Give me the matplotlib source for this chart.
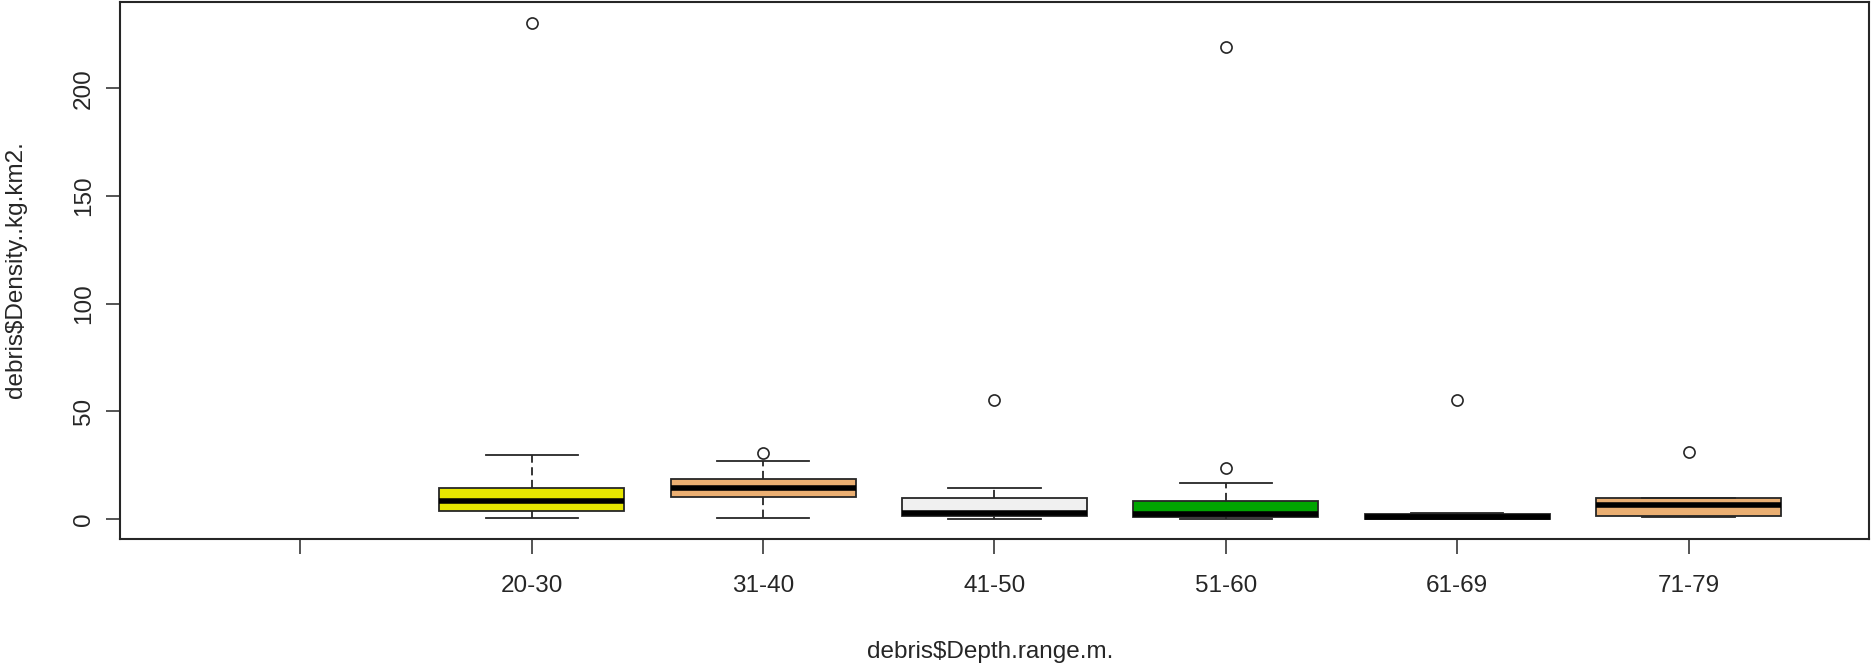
import matplotlib
matplotlib.use("Agg")
import matplotlib.pyplot as plt

# depth ranges (first level is an empty factor level with no data)
labels = ["", "20-30", "31-40", "41-50", "51-60", "61-69", "71-79"]
positions = [2, 3, 4, 5, 6, 7]

# box statistics (kg/km2)
whislo = [0.6, 0.6, 0.2, 0.0, 0.0, 0.7]
q1 = [3.6, 10.4, 1.3, 0.8, 0.1, 1.4]
med = [8.4, 14.5, 2.6, 2.3, 1.0, 6.4]
q3 = [14.4, 18.4, 9.9, 8.4, 2.3, 9.9]
whishi = [29.9, 26.8, 14.4, 16.9, 2.9, 9.9]
fliers = [[230.5], [30.6], [55.4], [23.7, 219.2], [55.4], [31.3]]

colors = ["#E6E600", "#EBAF72", "#F0F0F0", "#00A600", "#000000", "#EBAF72"]

stats = []
for i in range(len(positions)):
    stats.append(dict(whislo=whislo[i], q1=q1[i], med=med[i], q3=q3[i],
                      whishi=whishi[i], fliers=fliers[i]))

plt.rcParams['font.family'] = ['Liberation Sans', 'DejaVu Sans']
ink = "#262626"

fig = plt.figure(figsize=(18.71, 6.71), dpi=100)
ax = fig.add_axes([120/1871, 1-539/671, 1749/1871, 537/671])

bp = ax.bxp(stats, positions=positions, widths=0.8, capwidths=0.4,
            patch_artist=True,
            boxprops=dict(edgecolor=ink, linewidth=1.3),
            medianprops=dict(color="black", linewidth=4.0, solid_capstyle="butt"),
            whiskerprops=dict(color=ink, linewidth=1.3, linestyle=(0, (4.5, 2.5))),
            capprops=dict(color=ink, linewidth=1.3),
            flierprops=dict(marker="o", markerfacecolor="none", markeredgecolor=ink,
                            markersize=8, markeredgewidth=1.2))
for patch, c in zip(bp["boxes"], colors):
    patch.set_facecolor(c)

ax.set_xlim(0.22, 7.78)
ax.set_ylim(-9.29, 240.1)
ax.set_xticks(range(1, 8))
ax.set_xticklabels(labels)
ax.set_yticks([0, 50, 100, 150, 200])
ax.set_yticklabels(["0", "50", "100", "150", "200"], rotation=90, va="center")

ax.tick_params(axis="x", length=11, width=1.1, color=ink, pad=15,
               labelsize=17.5, labelcolor=ink)
ax.tick_params(axis="y", length=10, width=1.1, color=ink, pad=8,
               labelsize=17.5, labelcolor=ink)
for s in ax.spines.values():
    s.set_linewidth(1.5)
    s.set_color(ink)

fig.text(16.5/1871, 1-270/671, "debris$Density..kg.km2.", rotation=90,
         ha="center", va="center", fontsize=17.5, color=ink)
fig.text(990/1871, 1-652/671, "debris$Depth.range.m.",
         ha="center", va="center", fontsize=17.5, color=ink)

fig.savefig("out.png", dpi=100)
